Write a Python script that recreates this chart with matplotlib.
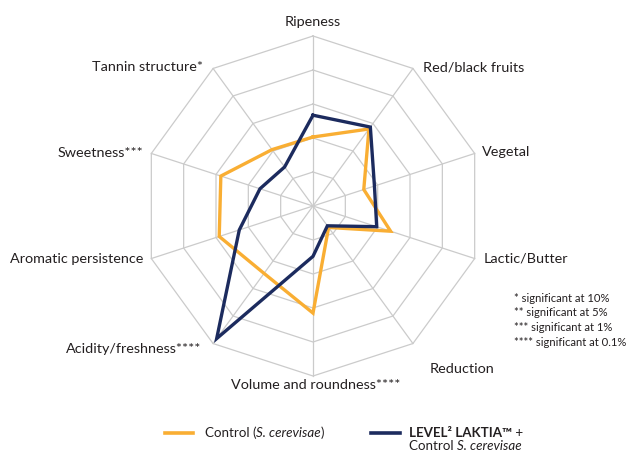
import numpy as np
import matplotlib
matplotlib.use("Agg")
import matplotlib.pyplot as plt

plt.rcParams['font.family'] = ['Lato', 'DejaVu Sans']

categories = ["Ripeness", "Red/black fruits", "Vegetal", "Lactic/Butter", "Reduction",
              "Volume and roundness****", "Acidity/freshness****", "Aromatic persistence",
              "Sweetness***", "Tannin structure*"]
control = [2.03, 2.80, 1.57, 2.40, 0.78, 3.15, 2.45, 2.90, 2.85, 2.05]
laktia = [2.67, 2.87, 1.90, 1.97, 0.72, 1.48, 4.82, 2.28, 1.64, 1.42]
ring_levels = [1, 2, 3, 4, 5]
notes = ["* significant at 10%", "** significant at 5%",
         "*** significant at 1%", "**** significant at 0.1%"]

# label layout: (offset x px, offset y px, ha)
label_layout = [(0, 14, 'center'), (10, 1, 'left'), (7, 1, 'left'), (9, 0, 'left'),
                (17, -25, 'left'), (3, -9, 'center'), (-12, -5, 'right'),
                (-8, 0, 'right'), (-8, 0, 'right'), (-10, 1, 'right')]

ORANGE = '#F9AE33'
NAVY = '#1C2B5E'
GRID = '#CBCBCB'
TXT = '#231F20'

W, H = 630, 454
fig = plt.figure(figsize=(W / 100, H / 100), dpi=100)
cx, cy, R = 313, 206, 170
ax = fig.add_axes([(cx - R) / W, (H - cy - R) / H, 2 * R / W, 2 * R / H], projection='polar')
ax.set_theta_zero_location('N')
ax.set_theta_direction(-1)
ax.set_ylim(0, 5)
ax.axis('off')

n = len(categories)
theta = np.arange(n) * 2 * np.pi / n
closed = np.append(theta, theta[0])

for lv in ring_levels:
    ax.plot(closed, [lv] * (n + 1), color=GRID, lw=0.9, zorder=1, clip_on=False)
for t in theta:
    ax.plot([t, t], [0, ring_levels[-1]], color=GRID, lw=0.9, zorder=1, clip_on=False)

ax.plot(closed, control + control[:1], color=ORANGE, lw=2.4, zorder=3, clip_on=False,
        solid_joinstyle='miter')
ax.plot(closed, laktia + laktia[:1], color=NAVY, lw=2.4, zorder=4, clip_on=False,
        solid_joinstyle='miter')

for t, lab, (dx, dy, ha) in zip(theta, categories, label_layout):
    ax.annotate(lab, xy=(t, ring_levels[-1]), xytext=(dx, dy), textcoords='offset pixels',
                ha=ha, va='center', fontsize=10.4, color=TXT, annotation_clip=False)

# significance notes
for i, s in enumerate(notes):
    fig.text(514 / W, 1 - (298 + i * 14.7) / H, s, fontsize=8.1, color=TXT,
             ha='left', va='center')

# legend
ly = 1 - 433 / H
fig.add_artist(plt.Line2D([165 / W, 193 / W], [ly, ly], color=ORANGE, lw=2.6))
fig.add_artist(plt.Line2D([371 / W, 400 / W], [ly, ly], color=NAVY, lw=2.6))

FS = 9.6
r = None


def after(prev, txt, **kw):
    return plt.annotate(txt, xy=(1, 0), xycoords=prev, xytext=(0, 0),
                        textcoords='offset points', va='bottom', ha='left',
                        fontsize=FS, color=TXT, **kw)


t1 = fig.text(205 / W, ly, "Control (", fontsize=FS, color=TXT, ha='left', va='center')
fig.canvas.draw()
a2 = after(t1, "S. cerevisae", style='italic')
fig.canvas.draw()
a3 = after(a2, ")")

b1 = fig.text(409 / W, ly, "LEVEL\u00b2 LAKTIA\u2122", fontsize=FS, color=TXT,
              fontweight='bold', ha='left', va='center')
fig.canvas.draw()
b2 = after(b1, " +")
c1 = fig.text(409 / W, 1 - 445.5 / H, "Control ", fontsize=FS, color=TXT, ha='left',
              va='center')
fig.canvas.draw()
c2 = after(c1, "S. cerevisae", style='italic')

fig.savefig("out.png", dpi=100)
